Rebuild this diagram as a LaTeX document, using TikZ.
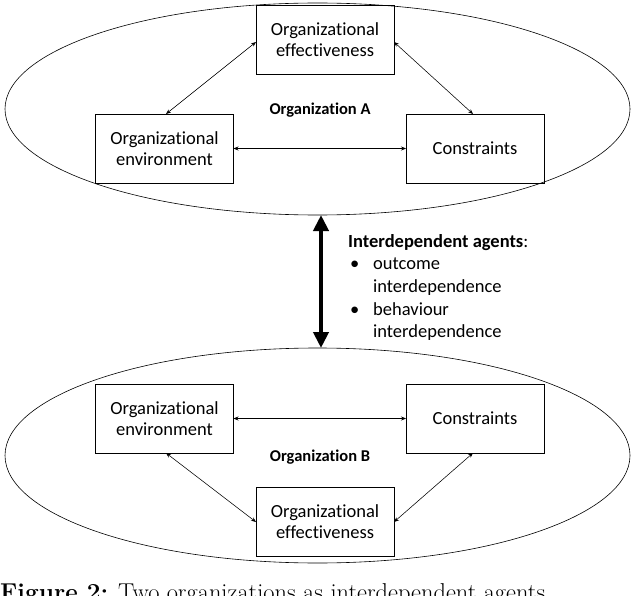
\documentclass[tikz,border=0pt]{standalone}
\usepackage{fontspec}
\newfontfamily\calib[Ligatures={NoCommon}]{Carlito}
\usetikzlibrary{arrows.meta,shapes.geometric}
\begin{document}
\begin{tikzpicture}[x=1pt,y=-1pt,
  box/.style={draw,line width=0.8pt,minimum width=138pt,minimum height=69pt,inner sep=0pt,outer sep=0pt,align=center,font=\calib\fontsize{18.5}{21}\selectfont},
  org/.style={draw,ellipse,line width=0.6pt,inner sep=0pt,outer sep=0pt},
  lab/.style={font=\calib\bfseries\fontsize{16.5}{20}\selectfont,inner sep=0pt},
  rel/.style={line width=0.55pt,{Stealth[length=5pt,width=4pt]}-{Stealth[length=5pt,width=4pt]}},
  big/.style={line width=4pt,{Triangle[length=16pt,width=15pt]}-{Triangle[length=16pt,width=15pt]}}]
\useasboundingbox (0,0) rectangle (634,596);
\clip (0,0) rectangle (634,596);
% Organization A
\node[org,minimum width=625pt,minimum height=212pt] (orgA) at (317.5,109) {};
\node[box] (effA) at (325,40) {Organizational\\effectiveness};
\node[box] (envA) at (164.5,148.5) {Organizational\\environment};
\node[box] (conA) at (475,148.5) {Constraints};
\node[lab] (labA) at (320,110) {Organization A};
\draw[rel] (envA.east) -- (conA.west);
\draw[rel] (effA.west |- 0,42) -- (envA.north -| 166,0);
\draw[rel] (effA.east |- 0,42) -- (conA.north -| 473,0);
% Organization B
\node[org,minimum width=625pt,minimum height=215pt] (orgB) at (317.5,455.5) {};
\node[box] (envB) at (164.5,418.5) {Organizational\\environment};
\node[box] (conB) at (475,418.5) {Constraints};
\node[box] (effB) at (325,522) {Organizational\\effectiveness};
\node[lab] (labB) at (320,457) {Organization B};
\draw[rel] (envB.east) -- (conB.west);
\draw[rel] (envB.south -| 166,0) -- (effB.west |- 0,522);
\draw[rel] (conB.south -| 473,0) -- (effB.east |- 0,522);
% interdependence
\draw[big] (orgA.south -| 321,0) -- (orgB.north -| 321,0);
\node[anchor=north west,inner sep=0pt,font=\calib\fontsize{18.5}{22.7}\selectfont] (agents) at (348,231) {%
\begin{tabular}{@{}p{25pt}@{}l@{}}
\multicolumn{2}{@{}l@{}}{\textbf{Interdependent agents}:}\\
\hspace{2pt}\textbullet & outcome\\
 & interdependence\\
\hspace{2pt}\textbullet & behaviour\\
 & interdependence
\end{tabular}};
% caption
\node[anchor=base west,inner sep=0pt,font=\fontsize{24.4}{28}\selectfont] (cap) at (0,600) {\textbf{Figure 2:} Two organizations as interdependent agents};
\end{tikzpicture}
\end{document}
